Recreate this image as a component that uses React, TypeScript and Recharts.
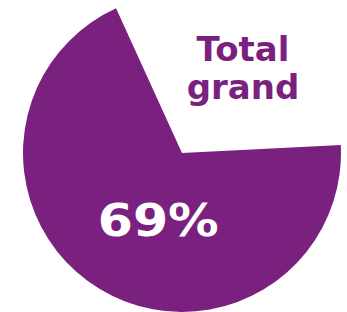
import { PieChart, Pie, Cell, Customized } from "recharts";

const categories = ["Total grand", "Other"];
const values = [69, 31];
const colors = ["#7a2180", "none"];
const titleLines = ["Total", "grand"];

const data = categories.map((name, i) => ({ name, value: values[i] }));

const PURPLE = "#7a2180";
const FONT = "'DejaVu Sans', Verdana, sans-serif";

const renderLabel = (props: any) => {
  const { cx, cy, outerRadius, index, percent } = props;
  if (index !== 0) return null;
  // label sits below-left of centre, not at the slice midpoint
  const rad = (250.6 * Math.PI) / 180;
  const r = outerRadius * 0.45;
  const x = cx + r * Math.cos(rad);
  const y = cy - r * Math.sin(rad);
  return (
    <text
      transform={`translate(${x},${y}) scale(1.15,1)`}
      x={0}
      y={0}
      textAnchor="middle"
      dominantBaseline="central"
      fill="#ffffff"
      fontFamily={FONT}
      fontWeight="bold"
      fontSize={44}
    >
      {`${Math.round(percent * 100)}%`}
    </text>
  );
};

const Title = () => (
  <text fill={PURPLE} fontFamily={FONT} fontWeight="bold" fontSize={34} textAnchor="middle">
    {titleLines.map((t, i) => (
      <tspan key={t} x={243} y={61 + i * 38}>
        {t}
      </tspan>
    ))}
  </text>
);

export default function App() {
  return (
    <div style={{ position: "fixed", left: 0, top: 0, width: 347, height: 312, background: "#fff" }}>
      <PieChart width={347} height={312} margin={{ top: 0, right: 0, bottom: 0, left: 0 }}>
        <Pie
          data={data}
          dataKey="value"
          nameKey="name"
          cx={182}
          cy={153}
          outerRadius={159}
          startAngle={114.5}
          endAngle={474.5}
          stroke="none"
          label={renderLabel}
          labelLine={false}
          isAnimationActive={false}
        >
          {data.map((d, i) => (
            <Cell key={d.name} fill={colors[i]} />
          ))}
        </Pie>
        <Customized component={Title} />
      </PieChart>
    </div>
  );
}
